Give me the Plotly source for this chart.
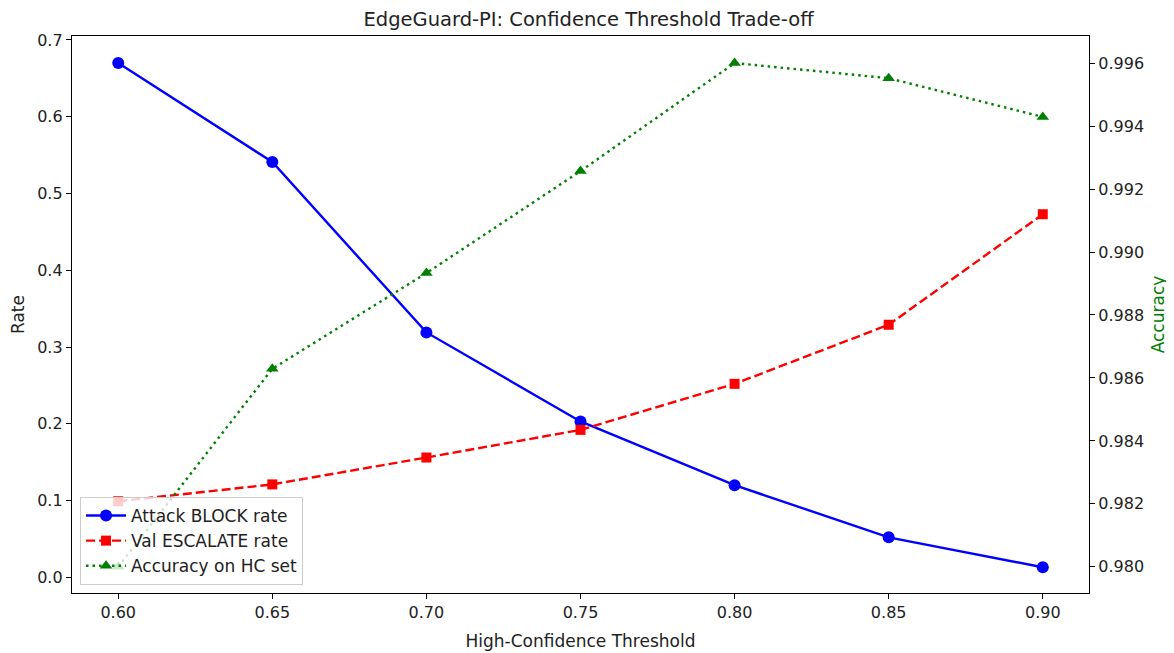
import plotly.graph_objects as go

thresholds = [0.60, 0.65, 0.70, 0.75, 0.80, 0.85, 0.90]
attack_block = [0.670, 0.541, 0.319, 0.203, 0.120, 0.052, 0.013]
val_escalate = [0.099, 0.121, 0.156, 0.192, 0.252, 0.329, 0.473]
accuracy_hc = [0.9800, 0.98629, 0.98933, 0.99257, 0.9960, 0.99552, 0.99429]
x_ticks = [0.60, 0.65, 0.70, 0.75, 0.80, 0.85, 0.90]

font = "DejaVu Sans"
txt = "#222222"

fig = go.Figure()
fig.add_trace(go.Scatter(
    x=thresholds, y=attack_block, mode="lines+markers", name="Attack BLOCK rate",
    line=dict(color="blue", width=2.4), marker=dict(symbol="circle", size=12, color="blue"),
))
fig.add_trace(go.Scatter(
    x=thresholds, y=val_escalate, mode="lines+markers", name="Val ESCALATE rate",
    line=dict(color="red", width=2.4, dash="9px,4px"), marker=dict(symbol="square", size=10, color="red"),
))
fig.add_trace(go.Scatter(
    x=thresholds, y=accuracy_hc, mode="lines+markers", name="Accuracy on HC set",
    line=dict(color="green", width=2.4, dash="2.5px,4px"), marker=dict(symbol="triangle-up", size=11, color="green"),
    yaxis="y2",
))

axis_common = dict(showline=True, linecolor="black", linewidth=1.3, ticks="outside",
                   ticklen=5, tickcolor="black", showgrid=False, zeroline=False, automargin=False,
                   tickfont=dict(family=font, size=16, color=txt))

fig.update_layout(
    width=1166, height=645,
    margin=dict(l=64, r=85, t=28, b=60),
    paper_bgcolor="white", plot_bgcolor="white",
    title=dict(text="EdgeGuard-PI: Confidence Threshold Trade-off", x=0.4979, xanchor="center",
               y=1 - 11.5 / 645, yanchor="middle", font=dict(family=font, size=19.5, color=txt)),
    xaxis=dict(**axis_common, range=[0.585, 0.915], tickvals=x_ticks,
               ticktext=[f"{v:.2f}" for v in x_ticks], mirror=True,
               title=dict(text="High-Confidence Threshold", font=dict(family=font, size=17, color=txt), standoff=13)),
    yaxis=dict(**axis_common, range=[-0.0205, 0.7052], dtick=0.1, tickformat=".1f", mirror=True,
               title=dict(text="Rate", font=dict(family=font, size=17, color=txt), standoff=8)),
    yaxis2=dict(**axis_common, overlaying="y", side="right", range=[0.97917, 0.99686],
                dtick=0.002, tickformat=".3f",
                title=dict(text="Accuracy", font=dict(family=font, size=17, color="green"), standoff=8)),
    legend=dict(x=0.0079, y=0.0144, xanchor="left", yanchor="bottom", bgcolor="rgba(255,255,255,0.8)",
                bordercolor="#cccccc", borderwidth=1, font=dict(family=font, size=17, color=txt),
                itemwidth=40, tracegroupgap=0),
    showlegend=True,
)

fig.write_html("out.html")
